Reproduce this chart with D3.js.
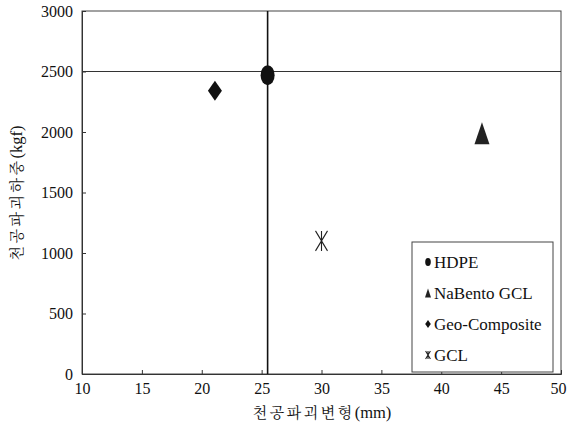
<!DOCTYPE html>
<html>
<head>
<meta charset="utf-8">
<script src="https://cdn.jsdelivr.net/npm/d3@7"></script>
<style>
  body { margin: 0; background: #fff; }
</style>
</head>
<body>
<svg width="568" height="426"></svg>
<script>
// data
const series = ["HDPE", "NaBento GCL", "Geo-Composite", "GCL"];
const deform = [25.5, 43.4, 21.1, 30.0];   // mm
const load = [2470, 1990, 2340, 1100];     // kgf
const xTicks = [10, 15, 20, 25, 30, 35, 40, 45, 50];
const yTicks = [0, 500, 1000, 1500, 2000, 2500, 3000];
const refX = 25.5;
const refY = 2500;

const serif = "'Liberation Serif', 'Times New Roman', serif";
const korean = "'Noto Serif CJK KR', 'Noto Sans CJK KR', serif";

const svg = d3.select("svg");
const m = { left: 82, right: 561, top: 11, bottom: 374 };

const x = d3.scaleLinear().domain([10, 50]).range([m.left, m.right]);
const y = d3.scaleLinear().domain([0, 3000]).range([m.bottom, m.top]);

// frame
svg.append("rect")
    .attr("x", m.left).attr("y", m.top)
    .attr("width", m.right - m.left).attr("height", m.bottom - m.top)
    .attr("fill", "none").attr("stroke", "#444").attr("stroke-width", 1);

// axes with inward ticks
const xAxis = svg.append("g")
    .attr("transform", `translate(0,${m.bottom})`)
    .call(d3.axisBottom(x).tickValues(xTicks).tickFormat(d3.format("d")).tickSize(-4).tickPadding(9));
const yAxis = svg.append("g")
    .attr("transform", `translate(${m.left},0)`)
    .call(d3.axisLeft(y).tickValues(yTicks).tickFormat(d3.format("d")).tickSize(-4).tickPadding(9));
[xAxis, yAxis].forEach((g) => {
    g.attr("font-family", null).attr("font-size", null);
    g.select(".domain").attr("stroke", "#333");
    g.selectAll(".tick line").attr("stroke", "#333");
    g.selectAll("text")
        .style("font-family", serif)
        .style("font-size", "16px")
        .attr("fill", "#111");
});
// keep the last x label inside the page
xAxis.selectAll(".tick text").filter((d) => d === 50).attr("dx", -3);

// reference lines
svg.append("line")
    .attr("x1", m.left).attr("x2", m.right)
    .attr("y1", y(refY)).attr("y2", y(refY))
    .attr("stroke", "#333").attr("stroke-width", 1.2);
svg.append("line")
    .attr("x1", x(refX)).attr("x2", x(refX))
    .attr("y1", m.top).attr("y2", m.bottom)
    .attr("stroke", "#111").attr("stroke-width", 1.6);

// markers
function drawMarker(g, i, s) {
    if (i === 0) {
        g.append("ellipse").attr("rx", 7 * s).attr("ry", 10 * s).attr("fill", "#111");
    } else if (i === 1) {
        g.append("path")
            .attr("d", `M0,${-11 * s}L${7.5 * s},${11 * s}L${-7.5 * s},${11 * s}Z`)
            .attr("fill", "#222");
    } else if (i === 2) {
        g.append("path")
            .attr("d", `M0,${-10 * s}L${7 * s},0L0,${10 * s}L${-7 * s},0Z`)
            .attr("fill", "#111");
    } else {
        // asterisk-like: two crossing lines plus a vertical one
        const w = 6 * s, h = 10 * s;
        g.append("path")
            .attr("d", `M${-w},${-h}L${w},${h}M${w},${-h}L${-w},${h}M0,${-h}L0,${h}`)
            .attr("stroke", "#222").attr("stroke-width", 1.1).attr("fill", "none");
    }
}

series.forEach((name, i) => {
    const g = svg.append("g")
        .attr("transform", `translate(${x(deform[i])},${y(load[i])})`);
    drawMarker(g, i, 1);
});

// legend
const lg = svg.append("g").attr("transform", "translate(412,242)");
lg.append("rect")
    .attr("width", 141).attr("height", 130)
    .attr("fill", "#fff").attr("stroke", "#444");
series.forEach((name, i) => {
    const row = lg.append("g").attr("transform", `translate(16,${20 + i * 31})`);
    const mk = row.append("g");
    drawMarker(mk, i, 0.4);
    row.append("text")
        .attr("x", 6).attr("y", 6)
        .style("font-family", serif)
        .style("font-size", "17px")
        .attr("fill", "#111")
        .text(name);
});

// axis titles
function axisTitle(t, label, unit) {
    t.attr("text-anchor", "middle").attr("fill", "#111");
    t.append("tspan")
        .style("font-family", korean).style("font-size", "15px")
        .style("letter-spacing", "2.5px")
        .text(label);
    t.append("tspan")
        .style("font-family", serif).style("font-size", "16.5px")
        .text(unit);
}
axisTitle(svg.append("text").attr("x", 322).attr("y", 418), "천공파괴변형", "(mm)");
axisTitle(svg.append("text").attr("transform", "translate(22,193) rotate(-90)"), "천공파괴하중", "(kgf)");
</script>
</body>
</html>
